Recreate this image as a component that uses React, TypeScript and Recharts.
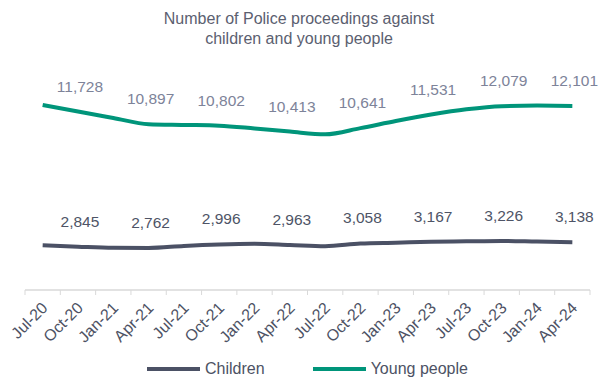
import React from 'react';
import { LineChart, Line, XAxis, YAxis, Legend, LabelList } from 'recharts';

const quarters = [
  'Jul-20', 'Oct-20', 'Jan-21', 'Apr-21', 'Jul-21', 'Oct-21', 'Jan-22', 'Apr-22',
  'Jul-22', 'Oct-22', 'Jan-23', 'Apr-23', 'Jul-23', 'Oct-23', 'Jan-24', 'Apr-24',
];
// labelled values are read off the picture, the in-between quarters are estimated
const children = [2940, 2845, 2770, 2762, 2900, 2996, 3040, 2963, 2880, 3058, 3110, 3167, 3200, 3226, 3180, 3138];
const youngPeople = [12160, 11728, 11310, 10897, 10850, 10802, 10620, 10413, 10230, 10641, 11110, 11531, 11873, 12079, 12120, 12101];

const CHILDREN_COLOR = '#4b5165';
const YOUNG_COLOR = '#00957a';
const TEXT_COLOR = '#4d5264';
const FONT = '"Liberation Sans", Arial, sans-serif';

const W = 598;
const H = 378;
const PLOT_LEFT = 25;
const PLOT_RIGHT = 590;
const HALF_BAND = (PLOT_RIGHT - PLOT_LEFT) / quarters.length / 2;

const data = quarters.map((q, i) => ({
  quarter: q,
  children: children[i],
  youngPeople: youngPeople[i],
}));

const fmt = (v: number) => Number(v).toLocaleString('en-GB');

function QuarterTick(props: any) {
  const { x, y, payload } = props;
  const i = payload?.index ?? props.index;
  const tx = x + 2;
  const ty = y + 15;
  return (
    <g>
      <line x1={x - HALF_BAND} y1={y} x2={x - HALF_BAND} y2={y + 5} stroke="#d9d9d9" />
      {i === quarters.length - 1 && (
        <line x1={x + HALF_BAND} y1={y} x2={x + HALF_BAND} y2={y + 5} stroke="#d9d9d9" />
      )}
      <text
        x={tx}
        y={ty}
        dy="0.35em"
        textAnchor="end"
        transform={`rotate(-45, ${tx}, ${ty})`}
        fill={TEXT_COLOR}
        fontSize={16}
        fontFamily={FONT}
      >
        {payload.value}
      </text>
    </g>
  );
}

// only every second quarter carries a value label
const pointLabel = (color: string) => (props: any) => {
  const { value, index } = props;
  const x = props.x ?? props.viewBox?.x;
  const y = props.y ?? props.viewBox?.y;
  if (index % 2 === 0 || value == null) return null;
  return (
    <text key={index} x={x + 2} y={y - 20} textAnchor="middle" fill={color} fontSize={15.5} fontFamily={FONT}>
      {fmt(value)}
    </text>
  );
};

function LegendContent(props: any) {
  const items = props.payload || [];
  return (
    <div
      style={{
        height: 26,
        boxSizing: 'border-box',
        paddingTop: 8,
        display: 'flex',
        justifyContent: 'center',
        gap: 48,
        fontSize: 16,
        lineHeight: '18px',
        color: TEXT_COLOR,
        fontFamily: FONT,
      }}
    >
      {items.map((item: any) => (
        <div key={item.value} style={{ display: 'flex', alignItems: 'center' }}>
          <span style={{ display: 'inline-block', width: 53, height: 4, background: item.color, marginRight: 5 }} />
          <span>{item.value}</span>
        </div>
      ))}
    </div>
  );
}

export default function App() {
  return (
    <div style={{ position: 'absolute', left: 0, top: 0, width: W, height: H, background: '#fff', fontFamily: FONT }}>
      <div
        style={{
          position: 'absolute',
          top: 9,
          left: 0,
          width: W,
          textAlign: 'center',
          fontSize: 16,
          lineHeight: '20px',
          color: '#5b6070',
        }}
      >
        Number of Police proceedings against
        <br />
        children and young people
      </div>
      <LineChart
        width={W}
        height={H}
        data={data}
        margin={{ top: 77, right: W - PLOT_RIGHT, left: PLOT_LEFT, bottom: 0 }}
      >
        <XAxis
          dataKey="quarter"
          interval={0}
          height={62}
          padding={{ left: HALF_BAND, right: HALF_BAND }}
          axisLine={{ stroke: '#d9d9d9', strokeWidth: 1.5 }}
          tickLine={false}
          tickSize={0}
          tickMargin={0}
          tick={<QuarterTick />}
        />
        <YAxis hide domain={[0, 14000]} />
        <Legend verticalAlign="bottom" content={<LegendContent />} />
        <Line
          type="monotone"
          dataKey="children"
          name="Children"
          stroke={CHILDREN_COLOR}
          strokeWidth={4}
          dot={false}
          isAnimationActive={false}
        >
          <LabelList dataKey="children" content={pointLabel('#4e5466')} />
        </Line>
        <Line
          type="monotone"
          dataKey="youngPeople"
          name="Young people"
          stroke={YOUNG_COLOR}
          strokeWidth={4}
          dot={false}
          isAnimationActive={false}
        >
          <LabelList dataKey="youngPeople" content={pointLabel('#7d8399')} />
        </Line>
      </LineChart>
    </div>
  );
}
